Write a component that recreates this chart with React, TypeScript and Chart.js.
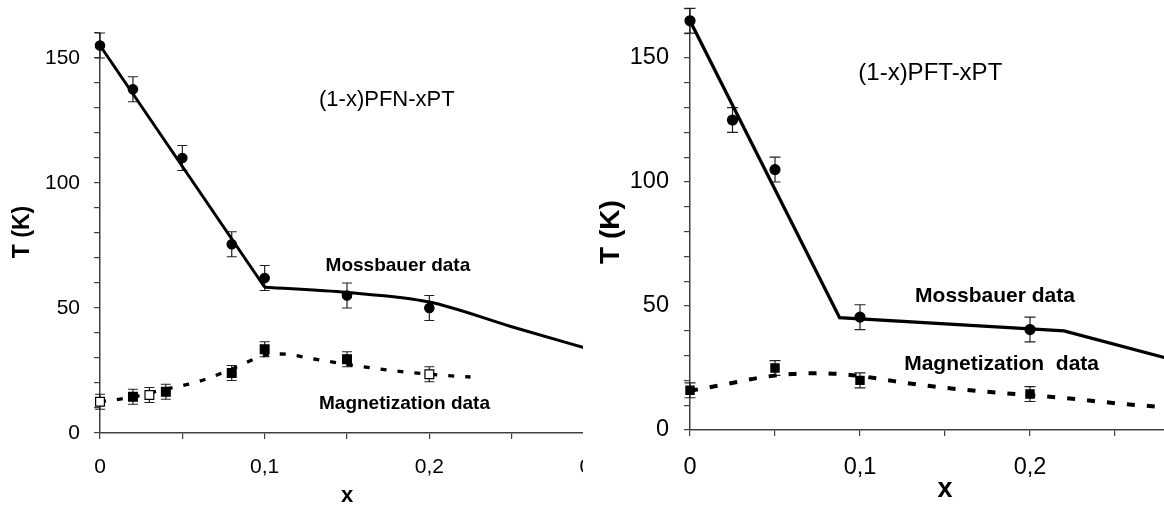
import { useEffect, useRef } from "react";
import { Chart, registerables } from "chart.js";

Chart.register(...registerables);

const FONT = "'Liberation Sans', Arial, Helvetica, sans-serif";
const AXIS = "#404040";
const H = 530;

// ---- (1-x)PFN-xPT ----
const pfnMossX = [0, 0.02, 0.05, 0.08, 0.1, 0.15, 0.2];
const pfnMossT = [155, 137.5, 110, 75.5, 62, 55, 50];
const pfnMossErr = [5, 5, 5, 5, 5, 5, 5];
const pfnMagX = [0.02, 0.04, 0.08, 0.1, 0.15];
const pfnMagT = [14.5, 16.5, 24, 33.5, 29.5];
const pfnMagErr = [3, 3, 3, 3, 3];
const pfnMagOpenX = [0, 0.03, 0.2];
const pfnMagOpenT = [12.5, 15.2, 23.5];
const pfnMagOpenErr = [3, 3, 3];
const pfnMossLineX = [0, 0.1];
const pfnMossLineT = [155, 58.3];
const pfnMossCurveX = [0.1, 0.15, 0.2, 0.25, 0.3];
const pfnMossCurveT = [58.3, 56.2, 52.4, 42.5, 33];
const pfnMagCurveX = [0, 0.02, 0.04, 0.06, 0.08, 0.1, 0.11, 0.13, 0.15, 0.17, 0.19, 0.21, 0.225];
const pfnMagCurveT = [12.5, 14.4, 17.6, 20.6, 25.6, 31, 31.6, 29.6, 27.4, 25.6, 24.1, 23, 22.4];

// ---- (1-x)PFT-xPT ----
const pftMossX = [0, 0.025, 0.05, 0.1, 0.2];
const pftMossT = [165, 125, 105, 45.5, 40.5];
const pftMossErr = [5, 5, 5, 5, 5];
const pftMagX = [0, 0.05, 0.1, 0.2];
const pftMagT = [16, 25, 20, 14.5];
const pftMagErr = [3, 3, 3, 3];
const pftMossLineX = [0, 0.088, 0.22, 0.3];
const pftMossLineT = [165, 45.3, 40, 25.4];
const pftMagCurveX = [0, 0.02, 0.04, 0.06, 0.075, 0.09, 0.1, 0.12, 0.14, 0.16, 0.18, 0.2, 0.22, 0.24, 0.26, 0.28, 0.3];
const pftMagCurveT = [15.8, 18.3, 21, 22.6, 22.9, 22.5, 21.8, 19.7, 17.8, 16.3, 15.1, 14, 12.9, 11.5, 10.2, 9.2, 8.4];

// ---- axis labels ----
const xLabelValues = [0, 0.1, 0.2, 0.3];
const xLabelTexts = ["0", "0,1", "0,2", "0,3"];
const yLabelValues = [0, 50, 100, 150];
const yLabelTexts = ["0", "50", "100", "150"];

const pts = (xs: number[], ys: number[]) => xs.map((x, i) => ({ x, y: ys[i] }));

type Note = { text: string; x: number; y: number; size: number; bold: boolean };

interface PanelSpec {
  left: number;
  clipWidth: number;
  canvasWidth: number;
  padTop: number;
  padRight: number;
  axisLeft: number;
  axisBottom: number;
  yMax: number;
  tickFont: number;
  yTickPad: number;
  xTickPad: number;
  yTitle: string;
  yTitleFont: number;
  yTitleDx: number; // offset of the rotated title's centre from the plot's left edge
  yTitleAt: number; // T value at which the rotated title is centred
  xTitleFont: number;
  xTitlePad: number;
  cap: number;
  datasets: any[];
  notes: Note[];
}

function errorBars(cap: number) {
  return {
    id: "errorBars",
    beforeDatasetsDraw(chart: any) {
      const { ctx, scales } = chart;
      const xs = scales.x;
      const ys = scales.y;
      ctx.save();
      ctx.strokeStyle = "#222";
      ctx.lineWidth = 1.2;
      chart.data.datasets.forEach((ds: any) => {
        if (!ds.errors) return;
        ds.data.forEach((p: any, i: number) => {
          const e = ds.errors[i];
          const px = xs.getPixelForValue(p.x);
          const top = ys.getPixelForValue(p.y + e);
          const bot = ys.getPixelForValue(p.y - e);
          ctx.beginPath();
          ctx.moveTo(px, top);
          ctx.lineTo(px, bot);
          ctx.moveTo(px - cap, top);
          ctx.lineTo(px + cap, top);
          ctx.moveTo(px - cap, bot);
          ctx.lineTo(px + cap, bot);
          ctx.stroke();
        });
      });
      ctx.restore();
    },
  };
}

function notesPlugin(spec: PanelSpec) {
  return {
    id: "notes",
    afterDatasetsDraw(chart: any) {
      const { ctx, scales, chartArea } = chart;
      ctx.save();
      ctx.fillStyle = "#000";
      ctx.textAlign = "left";
      ctx.textBaseline = "alphabetic";
      spec.notes.forEach((n) => {
        ctx.font = `${n.bold ? "bold " : ""}${n.size}px ${FONT}`;
        ctx.fillText(n.text, scales.x.getPixelForValue(n.x), scales.y.getPixelForValue(n.y));
      });
      // rotated axis title
      ctx.translate(chartArea.left + spec.yTitleDx, scales.y.getPixelForValue(spec.yTitleAt));
      ctx.rotate(-Math.PI / 2);
      ctx.textAlign = "center";
      ctx.textBaseline = "middle";
      ctx.font = `bold ${spec.yTitleFont}px ${FONT}`;
      ctx.fillText(spec.yTitle, 0, 0);
      ctx.restore();
    },
  };
}

function labelFor(values: number[], texts: string[], v: number) {
  const i = values.findIndex((t) => Math.abs(t - v) < 1e-6);
  return i >= 0 ? texts[i] : "";
}

function buildConfig(s: PanelSpec): any {
  return {
    type: "line",
    data: { datasets: s.datasets },
    options: {
      responsive: false,
      animation: false,
      events: [],
      layout: { padding: { left: 0, top: s.padTop, right: s.padRight, bottom: 0 } },
      plugins: { legend: { display: false }, tooltip: { enabled: false } },
      scales: {
        x: {
          type: "linear",
          min: 0,
          max: 0.3,
          ticks: {
            stepSize: 0.05,
            autoSkip: false,
            maxRotation: 0,
            padding: s.xTickPad,
            color: "#000",
            font: { family: FONT, size: s.tickFont },
            callback: (v: number) => labelFor(xLabelValues, xLabelTexts, Number(v)),
          },
          grid: { drawOnChartArea: false, drawTicks: true, tickLength: 6, color: AXIS, lineWidth: 1.2 },
          border: { display: true, color: AXIS, width: 1.5 },
          title: {
            display: true,
            text: "x",
            color: "#000",
            font: { family: FONT, size: s.xTitleFont, weight: "bold" },
            padding: { top: 0, bottom: s.xTitlePad },
          },
          afterFit: (sc: any) => {
            sc.height = H - s.axisBottom;
            sc.paddingLeft = 0;
            sc.paddingRight = 0;
          },
        },
        y: {
          type: "linear",
          min: 0,
          max: s.yMax,
          ticks: {
            stepSize: 10,
            autoSkip: false,
            padding: s.yTickPad,
            color: "#000",
            font: { family: FONT, size: s.tickFont },
            callback: (v: number) => labelFor(yLabelValues, yLabelTexts, Number(v)),
          },
          grid: { drawOnChartArea: false, drawTicks: true, tickLength: 6, color: AXIS, lineWidth: 1.2 },
          border: { display: true, color: AXIS, width: 1.5 },
          title: { display: false },
          afterFit: (sc: any) => {
            sc.width = s.axisLeft;
            sc.paddingTop = 0;
            sc.paddingBottom = 0;
          },
        },
      },
    },
    plugins: [errorBars(s.cap), notesPlugin(s)],
  };
}

const markers = (
  xs: number[],
  ys: number[],
  errs: number[],
  style: string,
  radius: number,
  fill: string
) => ({
  data: pts(xs, ys),
  errors: errs,
  showLine: false,
  pointStyle: style,
  pointRadius: radius,
  pointBackgroundColor: fill,
  pointBorderColor: "#000",
  pointBorderWidth: 1.2,
  clip: false,
});

const curve = (xs: number[], ys: number[], width: number, dash: number[], smooth: boolean) => ({
  data: pts(xs, ys),
  showLine: true,
  borderColor: "#000",
  borderWidth: width,
  borderDash: dash,
  pointRadius: 0,
  tension: 0,
  cubicInterpolationMode: smooth ? "monotone" : "default",
  clip: false,
});

const leftSpec: PanelSpec = {
  left: 0,
  clipWidth: 583,
  canvasWidth: 620,
  padTop: 33,
  padRight: 26,
  axisLeft: 100,
  axisBottom: 433,
  yMax: 160,
  tickFont: 21,
  yTickPad: 14,
  xTickPad: 16,
  yTitle: "T (K)",
  yTitleFont: 23,
  yTitleDx: -77.3,
  yTitleAt: 80.4,
  xTitleFont: 22,
  xTitlePad: 20.4,
  cap: 5,
  datasets: [
    markers(pfnMossX, pfnMossT, pfnMossErr, "circle", 4.7, "#000"),
    markers(pfnMagX, pfnMagT, pfnMagErr, "rect", 6.2, "#000"),
    markers(pfnMagOpenX, pfnMagOpenT, pfnMagOpenErr, "rect", 6.2, "#fff"),
    curve(pfnMossLineX, pfnMossLineT, 3, [], false),
    curve(pfnMossCurveX, pfnMossCurveT, 3, [], true),
    curve(pfnMagCurveX, pfnMagCurveT, 3.3, [6, 11], true),
  ],
  notes: [
    { text: "(1-x)PFN-xPT", x: 0.133, y: 131, size: 22, bold: false },
    { text: "Mossbauer data", x: 0.137, y: 65, size: 19, bold: true },
    { text: "Magnetization data", x: 0.133, y: 9.6, size: 19, bold: true },
  ],
};

const rightSpec: PanelSpec = {
  left: 590,
  clipWidth: 574,
  canvasWidth: 636,
  padTop: 8.4,
  padRight: 26,
  axisLeft: 100,
  axisBottom: 430,
  yMax: 170,
  tickFont: 23.5,
  yTickPad: 15,
  xTickPad: 17.4,
  yTitle: "T (K)",
  yTitleFont: 28,
  yTitleDx: -78.3,
  yTitleAt: 79.8,
  xTitleFont: 27,
  xTitlePad: 23.8,
  cap: 5.5,
  datasets: [
    markers(pftMossX, pftMossT, pftMossErr, "circle", 5, "#000"),
    markers(pftMagX, pftMagT, pftMagErr, "rect", 5.8, "#000"),
    curve(pftMossLineX, pftMossLineT, 3.3, [], false),
    curve(pftMagCurveX, pftMagCurveT, 4, [8, 12], true),
  ],
  notes: [
    { text: "(1-x)PFT-xPT", x: 0.099, y: 141, size: 24, bold: false },
    { text: "Mossbauer data", x: 0.1324, y: 51.7, size: 21, bold: true },
    { text: "Magnetization  data", x: 0.126, y: 24.2, size: 21, bold: true },
  ],
};

function Panel({ spec }: { spec: PanelSpec }) {
  const ref = useRef<HTMLCanvasElement>(null);
  useEffect(() => {
    if (!ref.current) return;
    const chart = new Chart(ref.current, buildConfig(spec));
    return () => chart.destroy();
  }, [spec]);
  return (
    <div
      style={{
        position: "absolute",
        left: spec.left,
        top: 0,
        width: spec.clipWidth,
        height: 506,
        overflow: "hidden",
      }}
    >
      <canvas
        ref={ref}
        width={spec.canvasWidth}
        height={H}
        style={{ display: "block", width: spec.canvasWidth, height: H }}
      />
    </div>
  );
}

export default function App() {
  return (
    <div
      style={{
        position: "fixed",
        left: 0,
        top: 0,
        width: 1164,
        height: 506,
        overflow: "hidden",
        background: "#fff",
      }}
    >
      <Panel spec={leftSpec} />
      <Panel spec={rightSpec} />
    </div>
  );
}
